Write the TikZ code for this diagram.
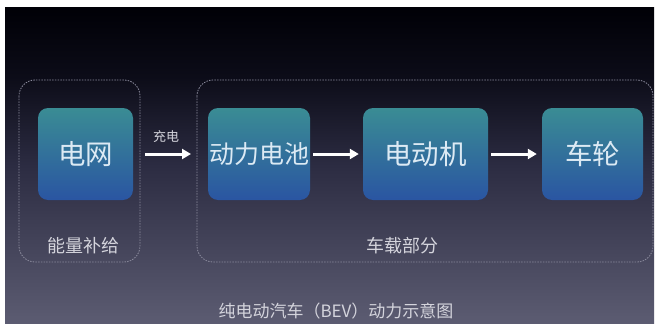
\documentclass[tikz,border=0pt]{standalone}
\usepackage{fontspec}
\setmainfont{Noto Sans CJK SC}
\usetikzlibrary{arrows.meta}
\definecolor{bgtop}{HTML}{000006}
\definecolor{bgdk}{HTML}{0C0C18}
\definecolor{bgmid}{HTML}{2C2C42}
\definecolor{bgbot}{HTML}{5C5C72}
\definecolor{boxtop}{HTML}{3A8C94}
\definecolor{boxbot}{HTML}{2A55A2}
\definecolor{txt}{HTML}{DCEAF4}
\definecolor{lbl}{HTML}{D4D4DC}
\definecolor{dash}{HTML}{8A8A9C}
\pgfdeclareverticalshading{bgshade}{100bp}{color(0bp)=(bgbot); color(25bp)=(bgbot); color(50bp)=(bgmid); color(64bp)=(bgdk); color(75bp)=(bgtop); color(100bp)=(bgtop)}
\tikzset{
  blk/.style={rounded corners=10pt, top color=boxtop, bottom color=boxbot, draw=none,
    text=txt, font=\fontsize{27.5}{29}\selectfont, inner sep=0pt},
  grp/.style={draw=dash, line width=0.8pt, dash pattern=on 1.5pt off 1.2pt, rounded corners=16pt},
  flow/.style={draw=white, line width=3pt, -{Triangle[length=9pt,width=10pt]}},
  grplbl/.style={text=lbl, font=\fontsize{18}{20}\selectfont, inner sep=0pt},
}
\begin{document}
\begin{tikzpicture}[x=1pt,y=-1pt]
\useasboundingbox (0,0) rectangle (657,324);
\fill[white] (0,0) rectangle (657,324);
\shade[shading=bgshade] (5,7) rectangle (654,324);
% group boxes
\draw[grp] (19,80) rectangle (140,262);
\draw[grp] (197,80) rectangle (653,262);
% blocks
\node[blk, minimum width=95pt, minimum height=92pt] (grid) at (85.5,154) {电网};
\node[blk, font=\fontsize{25}{27}\selectfont, minimum width=102pt, minimum height=92pt] (bat) at (259,154) {动力电池};
\node[blk, minimum width=125pt, minimum height=92pt] (mot) at (425.5,154) {电动机};
\node[blk, minimum width=101pt, minimum height=92pt] (whl) at (592.5,154) {车轮};
% arrows
\coordinate (a1s) at (145,154);
\coordinate (a1e) at (191,154);
\draw[flow] (a1s) -- (a1e);
\node[text=lbl, font=\fontsize{13}{14}\selectfont, inner sep=0pt] (chg) at (166,137) {充电};
\draw[flow] ([xshift=3pt]bat.east) -- ([xshift=-4pt]mot.west);
\draw[flow] ([xshift=3pt]mot.east) -- ([xshift=-5pt]whl.west);
% labels
\node[grplbl] (l1) at (84,246) {能量补给};
\node[grplbl] (l2) at (402,246) {车载部分};
\node[text=lbl, font=\fontsize{17}{19}\selectfont, inner sep=0pt] (title) at (336,311) {纯电动汽车（BEV）动力示意图};
\end{tikzpicture}
\end{document}
